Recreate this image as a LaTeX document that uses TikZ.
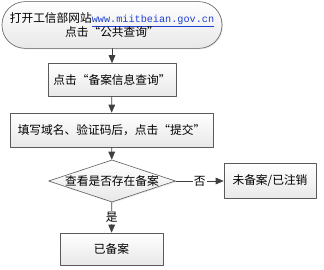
\documentclass[tikz,border=0pt]{standalone}
\usepackage{fontspec}
\setmainfont{Noto Sans CJK SC}
\setmonofont{Liberation Mono}
\usetikzlibrary{arrows.meta,shapes.geometric,shadows}
\definecolor{bordegris}{HTML}{5A5A5A}
\definecolor{flechagris}{HTML}{404040}
\definecolor{enlaceazul}{HTML}{1F3FD0}
\newcommand{\cita}[1]{{\addfontfeature{CharacterWidth=Full}“}#1{\addfontfeature{CharacterWidth=Full}”}}

\tikzset{
    caja/.style={draw=bordegris,line width=0.5pt,top color=white,bottom color=gray!18,
        drop shadow={shadow xshift=0.3mm,shadow yshift=-0.3mm,opacity=0.18},
        font=\fontsize{10}{12.5}\selectfont,align=center,inner sep=0pt},
    flecha/.style={draw=flechagris,line width=0.6pt,-{Triangle[length=2.4mm,width=2mm]}},
    rotulo/.style={fill=white,inner sep=1pt,font=\fontsize{10}{12}\selectfont}
}

\begin{document}
\begin{tikzpicture}[x=0.3mm,y=0.3mm,line cap=round,line join=round]
    \useasboundingbox (0,0) rectangle (324,270);
    \node[caja,rounded corners=6.9mm,minimum width=66mm,minimum height=14mm] (inicio) at (112,245)
        {打开工信部网站{\ttfamily\fontsize{8.7}{10}\selectfont\color{enlaceazul}\underline{www.miitbeian.gov.cn}}\\点击\cita{公共查询}};
    \node[caja,minimum width=38.4mm,minimum height=9.9mm] (consulta) at (112,190) {点击\cita{备案信息查询}};
    \node[caja,minimum width=60.9mm,minimum height=10.2mm] (formulario) at (111.5,140) {填写域名、验证码后，点击\cita{提交}};
    \node[caja,diamond,aspect=3,minimum width=38.1mm,minimum height=10.8mm] (pregunta) at (112,89) {查看是否存在备案};
    \node[caja,minimum width=27.6mm,minimum height=10.5mm] (noregistro) at (270,89) {未备案/已注销};
    \node[caja,minimum width=30.9mm,minimum height=9.6mm] (registrado) at (111.5,21) {已备案};

    \draw[flecha] (inicio) -- (consulta);
    \draw[flecha] (consulta) -- (formulario);
    \draw[flecha] (formulario) -- (pregunta);
    \draw[flecha] (pregunta) -- node[rotulo] {否} (noregistro);
    \draw[flecha] (pregunta) -- node[rotulo] {是} (registrado);
\end{tikzpicture}
\end{document}
